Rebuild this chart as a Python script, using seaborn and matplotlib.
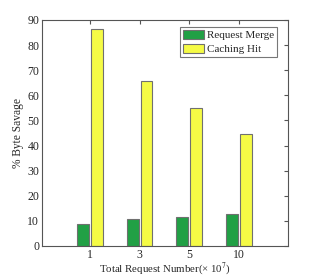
import pandas as pd
import matplotlib
matplotlib.use("Agg")
import matplotlib.pyplot as plt
import seaborn as sns

# data
requests = ["1", "3", "5", "10"]
request_merge = [8.8, 10.8, 11.6, 12.7]
caching_hit = [86.4, 65.7, 55.0, 44.6]

df = pd.DataFrame({
    "Requests": requests * 2,
    "Saving": request_merge + caching_hit,
    "Method": ["Request Merge"] * 4 + ["Caching Hit"] * 4,
})

sns.set_style("white")
plt.rcParams["font.family"] = ["Liberation Serif", "DejaVu Serif"]
plt.rcParams["mathtext.fontset"] = "stix"

fig = plt.figure(figsize=(3.19, 2.77), dpi=100)
ax = fig.add_axes([42 / 319, 31 / 277, 246 / 319, 226 / 277])

sns.barplot(data=df, x="Requests", y="Saving", hue="Method", order=requests,
            palette={"Request Merge": "#21a045", "Caching Hit": "#f5fb45"},
            width=0.56, gap=0.15, edgecolor="#707070", linewidth=0.8,
            saturation=1, ax=ax)

ax.set_xlim(-0.965, 3.99)
ax.set_ylim(0, 90)
ax.set_yticks(range(0, 91, 10))
ax.set_xlabel("Total Request Number(× 10$^7$)", fontsize=7.8, labelpad=0)
ax.set_ylabel("% Byte Savage", fontsize=8.3, labelpad=2)
ax.tick_params(direction="in", length=3, labelsize=8.5, top=True, right=True,
               pad=2, color="#555555")
for s in ax.spines.values():
    s.set_color("#555555")
    s.set_linewidth(0.8)

leg = ax.legend(loc="upper right", bbox_to_anchor=(0.955, 0.969), fontsize=8,
                frameon=True, fancybox=False, edgecolor="#555555",
                handlelength=1.9, handleheight=0.9, borderaxespad=0,
                borderpad=0.25, handletextpad=0.25, labelspacing=0.3)
leg.get_frame().set_linewidth(0.8)

fig.savefig("out.png", dpi=100)
